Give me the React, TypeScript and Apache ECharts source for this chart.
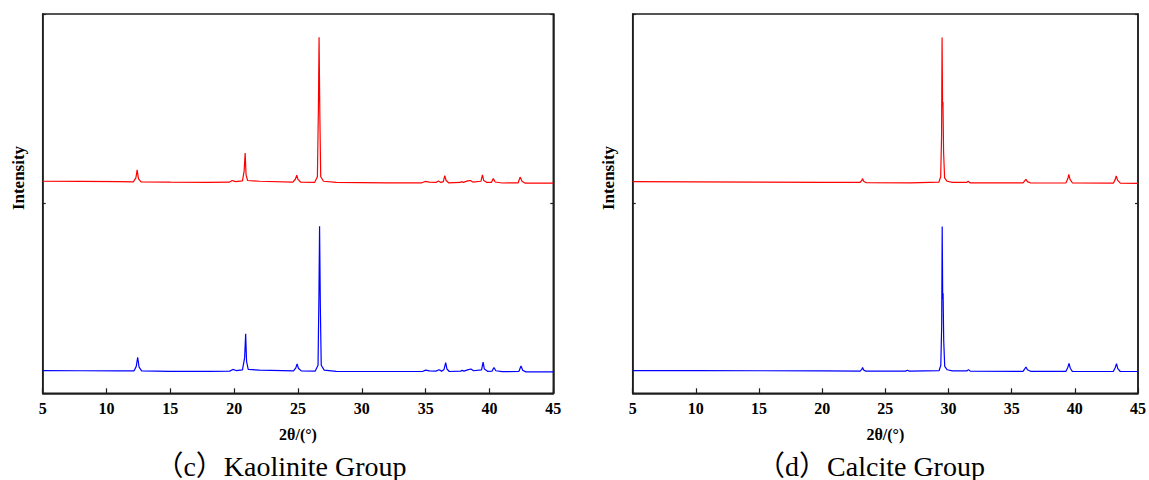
import React, { useEffect, useRef } from "react";
import * as echarts from "echarts";

// 2θ tick range
const xMin = 5;
const xMax = 45;
const xStep = 5;

// offsets applied to stack the two patterns (intensity axis 0..100, arbitrary units)
const upperOffset = 55.6;
const lowerOffset = 5.9;

// (c) Kaolinite group – upper (red) pattern: [2θ, relative intensity]
const kaoliniteRed: [number, number][] = [
  [5, 0.3], [8, 0.25], [11, 0.2], [12.1, 0.15], [12.3, 1.2], [12.4, 3.3], [12.5, 1.0], [12.7, 0.15],
  [15, 0.05], [18, 0.0], [19.6, 0.05], [19.85, 0.5], [20.1, 0.2], [20.65, 0.4], [20.78, 3], [20.86, 7.75],
  [20.93, 2], [21.05, 0.5], [22, 0.3], [24.6, 0.1], [24.8, 0.9], [24.9, 1.9], [25.0, 0.8], [25.2, 0.1],
  [26.3, 0.0], [26.52, 1.5], [26.6, 20], [26.65, 38.3], [26.71, 18], [26.78, 1.5], [27.0, 0.3], [28, 0],
  [32, -0.1], [34.7, -0.1], [34.95, 0.25], [35.3, 0.1], [35.8, 0.0], [36.0, 0.4], [36.2, 0], [36.38, 0.2],
  [36.5, 1.8], [36.6, 0.5], [36.8, -0.1], [37.7, 0.0], [37.8, 0.2], [37.95, 0.0], [38.3, 0.4], [38.5, 0.5],
  [38.7, 0.1], [39.33, 0.3], [39.45, 2.0], [39.55, 0.5], [39.8, 0.0], [40.15, 0.0], [40.3, 1.0], [40.45, 0.1],
  [41, -0.15], [42.25, -0.1], [42.4, 1.4], [42.55, 0.3], [42.8, -0.2], [45, -0.2],
];

// (c) Kaolinite group – lower (blue) pattern
const kaoliniteBlue: [number, number][] = [
  [5, 0.1], [8, 0.05], [11, 0.0], [12.15, 0.0], [12.33, 1.2], [12.44, 3.6], [12.55, 1.0], [12.75, 0.0],
  [15, -0.1], [18, -0.1], [19.65, -0.05], [19.9, 0.4], [20.15, 0.1], [20.65, 0.3], [20.82, 3.5], [20.9, 9.8],
  [20.97, 2.5], [21.1, 0.4], [22, 0.2], [24.65, 0.0], [24.83, 0.8], [24.93, 1.85], [25.03, 0.7], [25.25, 0.0],
  [26.35, -0.05], [26.57, 1.5], [26.64, 20], [26.69, 38.15], [26.75, 17], [26.82, 1.5], [27.05, 0.2], [28, -0.1],
  [32, -0.15], [34.75, -0.15], [35.0, 0.2], [35.3, 0.0], [35.8, -0.05], [36.05, 0.3], [36.25, -0.05], [36.43, 0.3],
  [36.57, 2.2], [36.67, 0.5], [36.85, -0.15], [37.75, -0.05], [37.85, 0.15], [38.0, -0.05], [38.35, 0.35], [38.55, 0.5],
  [38.75, 0.05], [39.38, 0.3], [39.5, 2.3], [39.6, 0.5], [39.85, -0.1], [40.2, -0.05], [40.35, 0.9], [40.5, 0.05],
  [41, -0.2], [42.3, -0.15], [42.47, 1.3], [42.6, 0.2], [42.85, -0.25], [45, -0.25],
];

// (d) Calcite group – upper (red) pattern
const calciteRed: [number, number][] = [
  [5, 0.2], [10, 0.15], [15, 0.1], [20, 0.0], [23.0, 0.0], [23.13, 0.5], [23.2, 1.0], [23.28, 0.3],
  [23.45, -0.05], [27, -0.1], [29.24, 0.1], [29.38, 1.5], [29.45, 12], [29.49, 38.2], [29.53, 20], [29.56, 21.2],
  [29.61, 8], [29.69, 1.2], [29.89, 0.3], [30.3, 0], [31.45, 0], [31.55, 0.3], [31.7, -0.1], [35.9, -0.1],
  [36.05, 0.5], [36.13, 0.8], [36.25, 0.2], [36.5, -0.15], [39.3, -0.1], [39.45, 1.0], [39.52, 2.1], [39.62, 0.8],
  [39.8, -0.1], [43.05, -0.2], [43.2, 0.8], [43.28, 1.7], [43.38, 0.6], [43.6, -0.2], [45, -0.25],
];

// (d) Calcite group – lower (blue) pattern
const calciteBlue: [number, number][] = [
  [5, 0.1], [10, 0.1], [15, 0.05], [20, 0.0], [23.0, -0.05], [23.13, 0.4], [23.2, 0.9], [23.28, 0.25],
  [23.45, -0.05], [26.6, -0.05], [26.75, 0.2], [26.9, -0.05], [29.26, 0.1], [29.39, 1.5], [29.46, 12], [29.5, 38.1],
  [29.54, 19], [29.57, 20.5], [29.62, 8], [29.7, 1.2], [29.9, 0.3], [30.3, 0.0], [31.45, 0.0], [31.58, 0.35],
  [31.72, -0.05], [35.9, -0.1], [36.05, 0.6], [36.13, 1.05], [36.25, 0.3], [36.5, -0.1], [39.3, -0.1], [39.45, 1.0],
  [39.54, 2.0], [39.64, 0.7], [39.8, -0.1], [43.05, -0.15], [43.2, 0.9], [43.3, 1.9], [43.4, 0.6], [43.6, -0.15],
  [45, -0.15],
];

const xAxisTitle = "2θ/(°)";
const yAxisTitle = "Intensity";
const captions = ["（c）Kaolinite Group", "（d）Calcite Group"];

const FRAME = "#1e1e1e";
const SERIF = "Liberation Serif, Noto Sans CJK SC, serif";

const shift = (pts: [number, number][], off: number) => pts.map(([x, y]) => [x, y + off]);

export default function App() {
  const ref = useRef<HTMLDivElement>(null);

  useEffect(() => {
    if (!ref.current) return;
    const chart = echarts.init(ref.current, null, { renderer: "svg" });

    const grids = [
      { left: 42.7, top: 14, width: 510.6, height: 379.3 },
      { left: 632.7, top: 14, width: 510.6, height: 379.3 },
    ];

    const xAxis = grids.map((_, i) => ({
      type: "value",
      gridIndex: i,
      min: xMin,
      max: xMax,
      interval: xStep,
      position: "bottom",
      axisLine: { show: true, onZero: false, lineStyle: { color: FRAME, width: 1.5 } },
      axisTick: { show: true, inside: true, length: 5, lineStyle: { color: FRAME, width: 1.2 } },
      axisLabel: { color: "#000", fontFamily: SERIF, fontWeight: "bold", fontSize: 16, margin: 7 },
      splitLine: { show: false },
      name: xAxisTitle,
      nameLocation: "middle",
      nameGap: 33,
      nameTextStyle: { color: "#000", fontFamily: SERIF, fontWeight: "bold", fontSize: 16 },
    }));

    const yAxis: any[] = [];
    grids.forEach((_, i) => {
      ["left", "right"].forEach((pos) => {
        yAxis.push({
          type: "value",
          gridIndex: i,
          position: pos,
          min: 0,
          max: 100,
          interval: 50,
          axisLine: { show: true, onZero: false, lineStyle: { color: FRAME, width: 1.5 } },
          axisTick: { show: true, inside: true, length: 3, lineStyle: { color: FRAME, width: 1.2 } },
          axisLabel: { show: false },
          splitLine: { show: false },
        });
      });
    });

    const series = [
      { data: shift(kaoliniteRed, upperOffset), color: "#ff0000", g: 0 },
      { data: shift(kaoliniteBlue, lowerOffset), color: "#0000ff", g: 0 },
      { data: shift(calciteRed, upperOffset), color: "#ff0000", g: 1 },
      { data: shift(calciteBlue, lowerOffset), color: "#0000ff", g: 1 },
    ].map((s) => ({
      type: "line",
      xAxisIndex: s.g,
      yAxisIndex: s.g * 2,
      data: s.data,
      showSymbol: false,
      symbol: "none",
      lineStyle: { color: s.color, width: 1.2 },
      itemStyle: { color: s.color },
      clip: true,
    }));

    const graphic: any[] = [];
    grids.forEach((g, i) => {
      graphic.push({
        type: "text",
        x: g.left - 24.5,
        y: 178,
        rotation: Math.PI / 2,
        style: {
          text: yAxisTitle,
          fill: "#000",
          font: `bold 17px ${SERIF}`,
          align: "center",
          verticalAlign: "middle",
        },
      });
      graphic.push({
        type: "text",
        x: g.left + g.width / 2 - 17,
        y: 466,
        style: {
          text: captions[i],
          fill: "#000",
          font: `28px ${SERIF}`,
          align: "center",
          verticalAlign: "middle",
        },
      });
    });

    chart.setOption({
      animation: false,
      backgroundColor: "#fff",
      grid: grids.map((g) => ({ ...g, show: true, borderColor: FRAME, borderWidth: 1.5, backgroundColor: "transparent" })),
      xAxis,
      yAxis,
      series,
      graphic,
    });

    return () => chart.dispose();
  }, []);

  return (
    <div
      ref={ref}
      style={{ position: "fixed", left: 0, top: 0, width: 1149, height: 480, background: "#fff" }}
    />
  );
}
